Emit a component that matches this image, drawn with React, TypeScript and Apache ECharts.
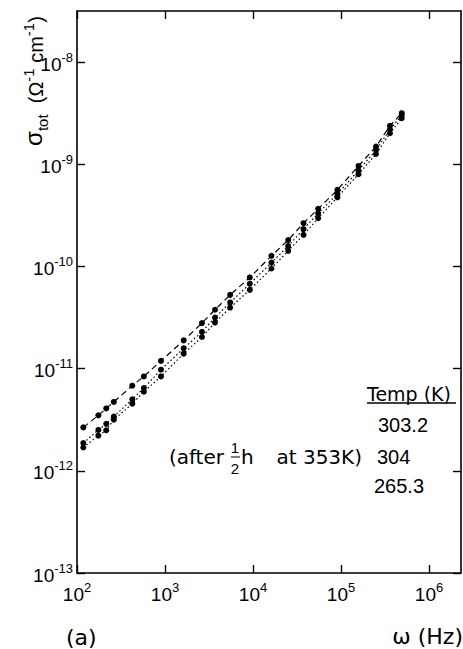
import React, { useEffect, useRef } from 'react';
import * as echarts from 'echarts';

// Frequencies (Hz) shared by the three runs
const frequencies = [118, 175, 215, 262, 425, 575, 900, 1630, 2630, 3700, 5500, 9200, 16200, 25100, 37500, 55000, 91000, 158000, 250000, 360000, 490000];

// sigma_tot (ohm^-1 cm^-1) for each temperature
const sigma303_2 = [2.66e-12, 3.49e-12, 4.08e-12, 4.72e-12, 6.81e-12, 8.39e-12, 1.19e-11, 1.89e-11, 2.79e-11, 3.77e-11, 5.27e-11, 7.8e-11, 1.27e-10, 1.81e-10, 2.65e-10, 3.66e-10, 5.61e-10, 9.62e-10, 1.49e-9, 2.38e-9, 3.16e-9];
const sigma304 = [1.87e-12, 2.51e-12, 2.88e-12, 3.39e-12, 5.01e-12, 6.46e-12, 9.77e-12, 1.58e-11, 2.29e-11, 3.16e-11, 4.44e-11, 6.76e-11, 1.09e-10, 1.58e-10, 2.32e-10, 3.31e-10, 5.13e-10, 8.71e-10, 1.38e-9, 2.19e-9, 3.02e-9];
const sigma265_3 = [1.69e-12, 2.21e-12, 2.49e-12, 3.16e-12, 4.54e-12, 5.94e-12, 8.39e-12, 1.4e-11, 2.04e-11, 2.82e-11, 3.96e-11, 5.9e-11, 9.55e-11, 1.42e-10, 2.04e-10, 2.96e-10, 4.75e-10, 7.98e-10, 1.26e-9, 2.01e-9, 2.82e-9];

const seriesNames = ['303.2', '304', '265.3'];
const xTicks = [1e2, 1e3, 1e4, 1e5, 1e6];
const yTicks = [1e-13, 1e-12, 1e-11, 1e-10, 1e-9, 1e-8];
const xMin = 100;
const xMax = 2.31e6;
const yMin = 1e-13;
const yMax = 3.16e-8;

const FONT = '"Liberation Sans", Arial, sans-serif';
const WFONT = '"DejaVu Sans", sans-serif';

const expLabel = (v: number) => {
  const e = Math.round(Math.log10(v));
  return `{b|10}{s|${e}}`;
};

const labelRich = {
  b: { fontSize: 19, fontFamily: FONT, color: '#000', verticalAlign: 'bottom' as const },
  s: { fontSize: 13, fontFamily: FONT, color: '#000', verticalAlign: 'bottom' as const, padding: [0, 0, 10, 0] },
};

export default function App() {
  const ref = useRef<HTMLDivElement>(null);
  useEffect(() => {
    if (!ref.current) return;
    const chart = echarts.init(ref.current, undefined, { renderer: 'svg' });
    const axisLine = { show: true, onZero: false, lineStyle: { color: '#000', width: 1.6 } };
    const tick = { show: true, inside: true, length: 8, lineStyle: { color: '#000', width: 1.4 } };
    const dataSets = [sigma303_2, sigma304, sigma265_3];
    const lineTypes: any[] = [[6, 4], [1.5, 2.5], [1.5, 2.5]];
    chart.setOption({
      animation: false,
      backgroundColor: '#fff',
      grid: { left: 77, top: 11, right: 2, bottom: 76, containLabel: false },
      xAxis: [
        {
          type: 'log', min: xMin, max: xMax, logBase: 10,
          axisLine, axisTick: { ...tick, customValues: xTicks },
          splitLine: { show: false }, minorTick: { show: false },
          axisLabel: { customValues: xTicks, formatter: expLabel, rich: labelRich, margin: 8, color: '#000' },
        },
        {
          type: 'log', min: xMin, max: xMax, logBase: 10, position: 'top',
          axisLine, axisTick: { ...tick, customValues: xTicks },
          splitLine: { show: false }, axisLabel: { show: false },
        },
      ],
      yAxis: [
        {
          type: 'log', min: yMin, max: yMax, logBase: 10,
          axisLine, axisTick: { ...tick, customValues: yTicks },
          splitLine: { show: false }, minorTick: { show: false },
          axisLabel: { customValues: yTicks, formatter: expLabel, rich: labelRich, margin: 4, color: '#000' },
        },
        {
          type: 'log', min: yMin, max: yMax, logBase: 10, position: 'right',
          axisLine, axisTick: { ...tick, customValues: yTicks },
          splitLine: { show: false }, axisLabel: { show: false },
        },
      ],
      series: dataSets.map((arr, i) => ({
        name: seriesNames[i],
        type: 'line',
        xAxisIndex: 0,
        yAxisIndex: 0,
        data: frequencies.map((f, j) => [f, arr[j]]),
        symbol: 'circle',
        symbolSize: 6,
        itemStyle: { color: '#000' },
        lineStyle: { color: '#000', width: 1.2, type: lineTypes[i] },
        z: 3 - i,
      })),
      graphic: [
        {
          type: 'text', x: 33, y: 81, rotation: Math.PI / 2,
          style: {
            text: '{g|σ}{t|tot}{n|  (Ω}{p|-1}{n| cm}{p|-1}{n|)}',
            align: 'center', verticalAlign: 'middle', fill: '#000',
            rich: {
              g: { fontSize: 24, fontFamily: FONT, fill: '#000', verticalAlign: 'bottom' },
              t: { fontSize: 15, fontFamily: FONT, fill: '#000', verticalAlign: 'bottom', padding: [0, 0, -4, 0] },
              n: { fontSize: 20, fontFamily: FONT, fill: '#000', verticalAlign: 'bottom' },
              p: { fontSize: 15, fontFamily: FONT, fill: '#000', verticalAlign: 'bottom', padding: [0, 0, 10, 0] },
            },
          },
        },
        { type: 'text', x: 367, y: 394, style: { text: 'Temp (K)', font: `19px ${WFONT}`, fill: '#000', verticalAlign: 'middle' } },
        { type: 'line', shape: { x1: 367, y1: 403, x2: 456, y2: 403 }, style: { stroke: '#000', lineWidth: 1.3 } },
        { type: 'text', x: 378, y: 425, style: { text: seriesNames[0], font: `20px ${FONT}`, fill: '#000', verticalAlign: 'middle' } },
        { type: 'text', x: 377, y: 457, style: { text: seriesNames[1], font: `20px ${FONT}`, fill: '#000', verticalAlign: 'middle' } },
        { type: 'text', x: 374, y: 486, style: { text: seriesNames[2], font: `20px ${FONT}`, fill: '#000', verticalAlign: 'middle' } },
        { type: 'text', x: 224, y: 457, style: { text: '(after', font: `20px ${WFONT}`, fill: '#000', align: 'right', verticalAlign: 'middle' } },
        { type: 'text', x: 235, y: 447, style: { text: '1', font: `15px ${FONT}`, fill: '#000', align: 'center', verticalAlign: 'middle' } },
        { type: 'line', shape: { x1: 231, y1: 457, x2: 240, y2: 457 }, style: { stroke: '#000', lineWidth: 1 } },
        { type: 'text', x: 235, y: 468, style: { text: '2', font: `15px ${FONT}`, fill: '#000', align: 'center', verticalAlign: 'middle' } },
        { type: 'text', x: 241, y: 457, style: { text: 'h', font: `20px ${WFONT}`, fill: '#000', verticalAlign: 'middle' } },
        { type: 'text', x: 362, y: 457, style: { text: 'at 353K)', font: `20px ${WFONT}`, fill: '#000', align: 'right', verticalAlign: 'middle' } },
        { type: 'text', x: 463, y: 636, style: { text: 'ω (Hz)', font: `22px ${WFONT}`, fill: '#000', align: 'right', verticalAlign: 'middle' } },
        { type: 'text', x: 66, y: 637, style: { text: '(a)', font: `22px ${WFONT}`, fill: '#000', verticalAlign: 'middle' } },
      ],
    });
    return () => chart.dispose();
  }, []);
  return <div ref={ref} style={{ position: 'fixed', left: 0, top: 0, width: 463, height: 649, background: '#fff' }} />;
}
